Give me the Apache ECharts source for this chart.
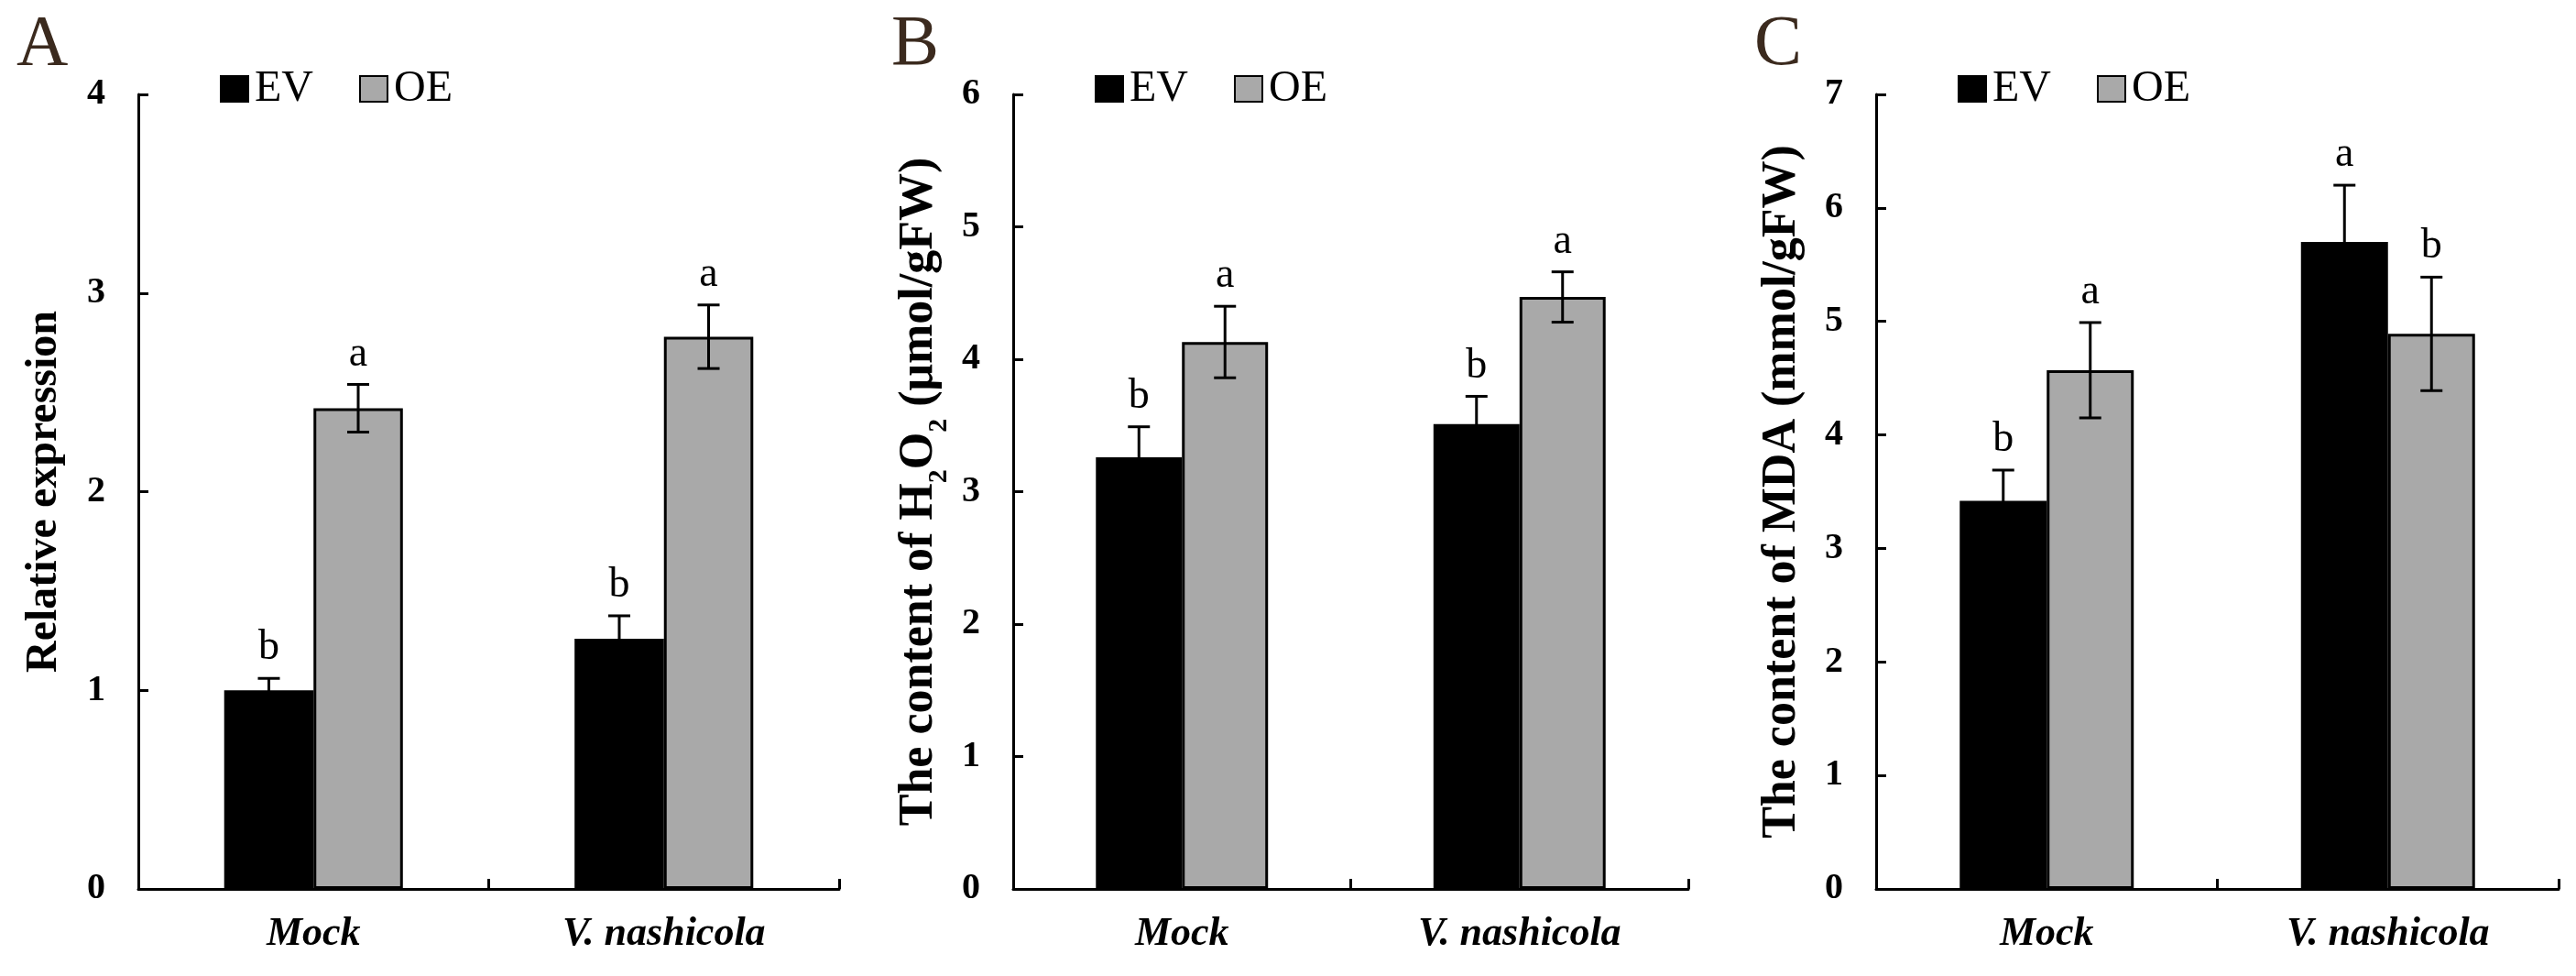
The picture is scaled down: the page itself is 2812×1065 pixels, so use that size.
<!DOCTYPE html>
<html>
<head>
<meta charset="utf-8">
<script src="https://cdn.jsdelivr.net/npm/echarts@6/dist/echarts.min.js"></script>
<style>html,body{margin:0;padding:0;background:#fff;}#c{width:2812px;height:1065px;}</style>
</head>
<body>
<div id="c"></div>
<script>
// ---- data ----
const categories = ['Mock', 'V. nashicola'];
const seriesNames = ['EV', 'OE'];
const panelLetters = ['A', 'B', 'C'];
const yMaxes = [4, 6, 7];

const evA = [1.00, 1.26];   const evAErr = [0.06, 0.115]; const evALab = ['b', 'b'];
const oeA = [2.42, 2.78];   const oeAErr = [0.12, 0.16];  const oeALab = ['a', 'a'];

const evB = [3.26, 3.51];   const evBErr = [0.23, 0.21];  const evBLab = ['b', 'b'];
const oeB = [4.13, 4.47];   const oeBErr = [0.27, 0.19];  const oeBLab = ['a', 'a'];

const evC = [3.42, 5.70];   const evCErr = [0.27, 0.50];  const evCLab = ['b', 'a'];
const oeC = [4.57, 4.89];   const oeCErr = [0.42, 0.50];  const oeCLab = ['a', 'b'];

// ---- layout / style ----
const FONT = 'Liberation Serif';
const grids = [
  { left: 151, right: 2812 - 916, top: 103, bottom: 1065 - 970 },
  { left: 1106, right: 2812 - 1843, top: 103, bottom: 1065 - 970 },
  { left: 2048, right: 2812 - 2793, top: 103, bottom: 1065 - 970 }
];
const CAT_GAP = 0.49;
const GRAY = '#a9a9a9';

const panels = [
  { ev: evA, evErr: evAErr, evLab: evALab, oe: oeA, oeErr: oeAErr, oeLab: oeALab,
    name: '{m|Relative expression}', nameSize: 48, nameGap: 78 },
  { ev: evB, evErr: evBErr, evLab: evBLab, oe: oeB, oeErr: oeBErr, oeLab: oeBLab,
    name: '{m|The content of H}{s|2}{m|O}{s|2}{m| (μmol/gFW)}', nameSize: 52, nameGap: 76 },
  { ev: evC, evErr: evCErr, evLab: evCLab, oe: oeC, oeErr: oeCErr, oeLab: oeCLab,
    name: '{m|The content of MDA (mmol/gFW)}', nameSize: 52, nameGap: 76 }
];

const chart = echarts.init(document.getElementById('c'), null, { renderer: 'canvas' });

const option = {
  backgroundColor: '#fff',
  animation: false,
  grid: grids,
  legend: [],
  xAxis: [],
  yAxis: [],
  series: [],
  graphic: []
};

panels.forEach((p, i) => {
  option.xAxis.push({
    type: 'category', gridIndex: i, data: categories,
    axisLine: { lineStyle: { color: '#000', width: 3 } },
    axisTick: { show: true, inside: true, length: 11, alignWithLabel: false, lineStyle: { color: '#000', width: 3 } },
    axisLabel: { fontFamily: FONT, fontSize: 44, fontWeight: 'bold', fontStyle: 'italic', color: '#000', margin: 28 },
    splitLine: { show: false }
  });
  option.yAxis.push({
    type: 'value', gridIndex: i, min: 0, max: yMaxes[i], interval: 1,
    axisLine: { show: true, lineStyle: { color: '#000', width: 3 } },
    axisTick: { show: true, inside: true, length: 11, lineStyle: { color: '#000', width: 3 } },
    axisLabel: { fontFamily: FONT, fontSize: 40, fontWeight: 'bold', color: '#000', margin: 36 },
    splitLine: { show: false },
    name: p.name,
    nameLocation: 'middle',
    nameRotate: 90,
    nameGap: p.nameGap,
    nameTextStyle: {
      rich: {
        m: { fontFamily: FONT, fontSize: p.nameSize, fontWeight: 'bold', color: '#000', lineHeight: p.nameSize, verticalAlign: 'top' },
        s: { fontFamily: FONT, fontSize: 30, fontWeight: 'bold', color: '#000', lineHeight: 30, padding: [32, 0, 0, 0], verticalAlign: 'top' }
      }
    }
  });
  option.series.push({
    name: seriesNames[0], type: 'bar', xAxisIndex: i, yAxisIndex: i,
    data: p.ev, barGap: '0%', barCategoryGap: (CAT_GAP * 100) + '%',
    itemStyle: { color: '#000', borderColor: '#000', borderWidth: 3 }
  });
  option.series.push({
    name: seriesNames[1], type: 'bar', xAxisIndex: i, yAxisIndex: i,
    data: p.oe, barGap: '0%', barCategoryGap: (CAT_GAP * 100) + '%',
    itemStyle: { color: GRAY, borderColor: '#000', borderWidth: 3 }
  });
  const items = [];
  categories.forEach((c, k) => {
    items.push({ value: [k, p.ev[k], p.evErr[k]], side: 0, lab: p.evLab[k] });
    items.push({ value: [k, p.oe[k], p.oeErr[k]], side: 1, lab: p.oeLab[k] });
  });
  option.series.push({
    type: 'custom', xAxisIndex: i, yAxisIndex: i, z: 5,
    data: items.map(d => d.value),
    renderItem: function (params, api) {
      const d = items[params.dataIndex];
      const cat = api.value(0), v = api.value(1), e = api.value(2);
      const catW = api.size([1, 0])[0];
      const bw = catW * (1 - CAT_GAP) / 2;
      const base = api.coord([cat, 0]);
      const x = base[0] + (d.side === 0 ? -bw / 2 : bw / 2);
      const yT = api.coord([cat, v + e])[1];
      const yB = api.coord([cat, v - e])[1];
      const cap = 12;
      const ls = { stroke: '#000', lineWidth: 3 };
      return {
        type: 'group',
        children: [
          { type: 'line', shape: { x1: x, y1: yB, x2: x, y2: yT }, style: ls },
          { type: 'line', shape: { x1: x - cap, y1: yT, x2: x + cap, y2: yT }, style: ls },
          { type: 'line', shape: { x1: x - cap, y1: yB, x2: x + cap, y2: yB }, style: ls },
          { type: 'text', x: x, y: yT - 10,
            style: { text: d.lab, fontFamily: FONT, fontSize: 46, fill: '#000', align: 'center', verticalAlign: 'bottom' } }
        ]
      };
    }
  });
  option.legend.push({
    data: seriesNames,
    left: grids[i].left + 89, top: 73,
    orient: 'horizontal',
    itemWidth: 30, itemHeight: 28, itemGap: 50, padding: 0,
    icon: 'rect',
    textStyle: { fontFamily: FONT, fontSize: 48, color: '#000', padding: [0, 0, 0, 2] },
    selectedMode: false
  });
  option.graphic.push({
    type: 'text', left: grids[i].left - 133, top: 11,
    style: { text: panelLetters[i], fontFamily: FONT, fontSize: 78, fill: '#3b2a1e' }
  });
});

chart.setOption(option);
</script>
</body>
</html>
